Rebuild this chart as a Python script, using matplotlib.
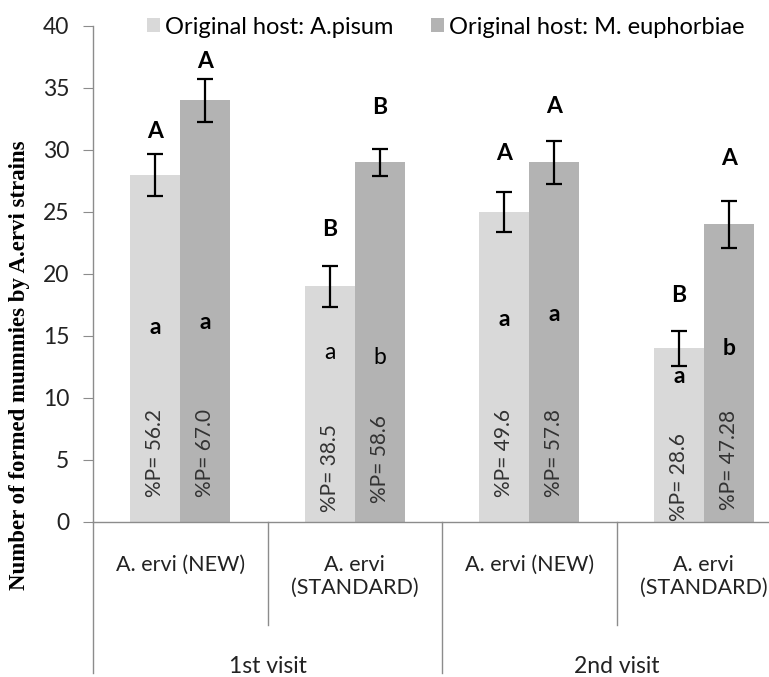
import numpy as np
import matplotlib.pyplot as plt

plt.rcParams['font.family'] = ['Lato', 'DejaVu Sans']
plt.rcParams['font.size'] = 16

# data
strains = ['A. ervi (NEW)', 'A. ervi\n(STANDARD)', 'A. ervi (NEW)', 'A. ervi\n(STANDARD)']
visits = ['1st visit', '2nd visit']
series = ['Original host: A.pisum', 'Original host: M. euphorbiae']
pisum = [28, 19, 25, 14]
pisum_err = [1.7, 1.65, 1.6, 1.4]
euph = [34, 29, 29, 24]
euph_err = [1.75, 1.1, 1.75, 1.9]
pct_pisum = ['%P= 56.2', '%P= 38.5', '%P= 49.6', '%P= 28.6']
pct_euph = ['%P= 67.0', '%P= 58.6', '%P= 57.8', '%P= 47.28']
upper_pisum = ['A', 'B', 'A', 'B']
upper_euph = ['A', 'B', 'A', 'A']
lower_pisum = ['a', 'a', 'a', 'a']
lower_euph = ['a', 'b', 'a', 'b']
lower_bold = [True, False, True, True]

# where the letters sit (y in data units)
upper_pisum_y = [31.5, 23.6, 29.7, 18.3]
upper_euph_y = [37.1, 33.4, 33.5, 29.3]
lower_pisum_y = [15.7, 13.7, 16.3, 11.7]
lower_euph_y = [16.1, 13.3, 16.7, 14.0]
pct_pisum_y = [2.0, 0.8, 2.0, 0.1]
pct_euph_y = [2.0, 1.5, 2.0, 1.0]

W, H = 769, 677
fig = plt.figure(figsize=(W/100, H/100), dpi=100)
# axes runs past the right edge of the figure (chart is cropped there)
ax = fig.add_axes([93/W, (H-522)/H, 4*174.5/W, 496/H])

x = np.arange(4) + 0.5
bw = 50/174.5
c_light = '#d9d9d9'
c_dark = '#b3b3b3'
ax.bar(x - bw/2, pisum, bw, color=c_light, label=series[0], zorder=2)
ax.bar(x + bw/2, euph, bw, color=c_dark, label=series[1], zorder=2)
ek = dict(fmt='none', ecolor='black', elinewidth=1.6, capsize=5.5, capthick=1.6, zorder=3)
ax.errorbar(x - bw/2, pisum, yerr=pisum_err, **ek)
ax.errorbar(x + bw/2, euph, yerr=euph_err, **ek)

for i in range(4):
    ax.text(x[i] - bw/2, upper_pisum_y[i], upper_pisum[i], ha='center', va='center',
            fontsize=16.5, fontweight='bold', zorder=4)
    ax.text(x[i] + bw/2, upper_euph_y[i], upper_euph[i], ha='center', va='center',
            fontsize=16.5, fontweight='bold', zorder=4)
    fw = 'bold' if lower_bold[i] else 'normal'
    ax.text(x[i] - bw/2, lower_pisum_y[i], lower_pisum[i], ha='center', va='center',
            fontsize=16.5, fontweight=fw, zorder=4)
    ax.text(x[i] + bw/2, lower_euph_y[i], lower_euph[i], ha='center', va='center',
            fontsize=16.5, fontweight=fw, zorder=4)
    ax.text(x[i] - bw/2, pct_pisum_y[i], pct_pisum[i], rotation=90, ha='center', va='bottom',
            fontsize=15, color='#333333', zorder=4)
    ax.text(x[i] + bw/2, pct_euph_y[i], pct_euph[i], rotation=90, ha='center', va='bottom',
            fontsize=15, color='#333333', zorder=4)

ax.set_xlim(0, 4)
ax.set_ylim(0, 40)
ax.set_yticks(range(0, 41, 5))
ax.set_xticks([])
for s in ['top', 'right']:
    ax.spines[s].set_visible(False)
for s in ['left', 'bottom']:
    ax.spines[s].set_color('#8c8c8c')
    ax.spines[s].set_linewidth(1)
ax.tick_params(axis='y', direction='out', length=7, color='#8c8c8c', labelsize=16.5,
               labelcolor='#222222', pad=10)

# two-level category axis
tr = ax.get_xaxis_transform()
for xs, low in [(0, -0.305), (1, -0.208), (2, -0.305), (3, -0.208)]:
    ax.plot([xs, xs], [0, low], color='#8c8c8c', lw=1, transform=tr, clip_on=False)
for i, lab in enumerate(strains):
    ax.text(x[i], -0.066, lab, transform=tr, ha='center', va='top', fontsize=15.5,
            color='#222222', linespacing=1.2)
for j, lab in enumerate(visits):
    ax.text(1 + 2*j, -0.292, lab, transform=tr, ha='center', va='center', fontsize=16.5,
            color='#222222')

fig.text(20/W, (H-365)/H, 'Number of formed mummies by A.ervi strains', rotation=90,
         ha='center', va='center', fontsize=16.5, fontweight='bold',
         family='Liberation Serif')

fig.legend(loc='center left', bbox_to_anchor=(147/W, (H-27)/H), ncol=2, frameon=False,
           handlelength=0.55, handleheight=0.55, handletextpad=0.2, columnspacing=1.6,
           fontsize=17, borderaxespad=0, borderpad=0)

fig.savefig('out.png', dpi=100)
